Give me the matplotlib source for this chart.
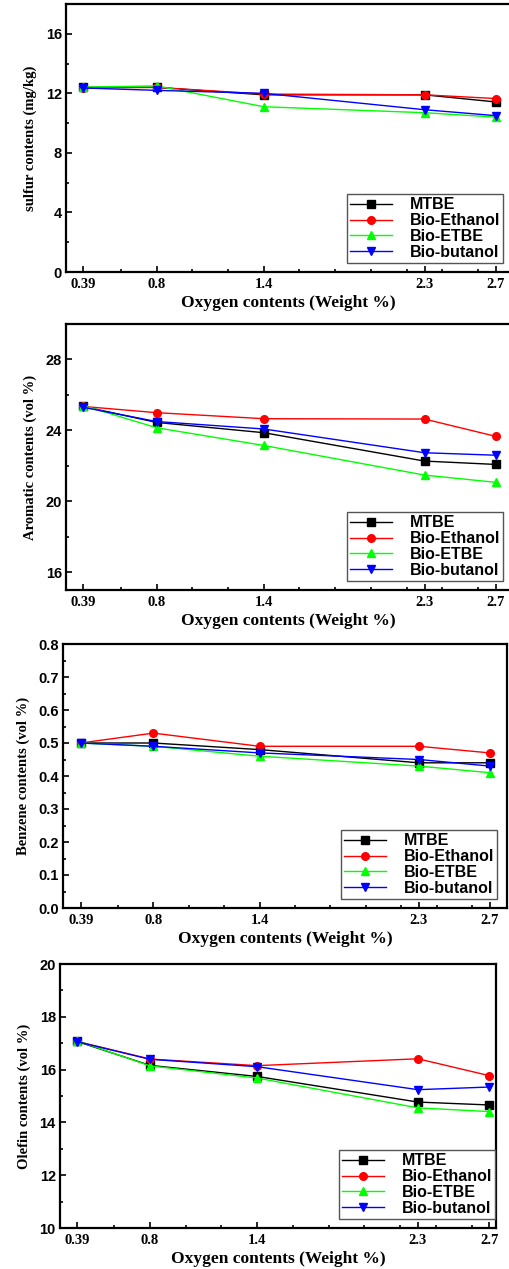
import matplotlib
matplotlib.use("Agg")
import matplotlib.pyplot as plt
from matplotlib.ticker import FixedLocator, MultipleLocator

# data
oxygen = [0.39, 0.8, 1.4, 2.3, 2.7]
oxygen_labels = ["0.39", "0.8", "1.4", "2.3", "2.7"]
series_names = ["MTBE", "Bio-Ethanol", "Bio-ETBE", "Bio-butanol"]

sulfur_mtbe = [12.4, 12.4, 11.9, 11.9, 11.42]
sulfur_ethanol = [12.38, 12.4, 11.95, 11.9, 11.65]
sulfur_etbe = [12.42, 12.5, 11.1, 10.7, 10.4]
sulfur_butanol = [12.36, 12.2, 12.0, 10.9, 10.5]

arom_mtbe = [25.35, 24.45, 23.87, 22.27, 22.08]
arom_ethanol = [25.35, 25.0, 24.66, 24.64, 23.66]
arom_etbe = [25.4, 24.15, 23.15, 21.48, 21.07]
arom_butanol = [25.3, 24.5, 24.08, 22.74, 22.6]

benz_mtbe = [0.5, 0.5, 0.48, 0.44, 0.44]
benz_ethanol = [0.5, 0.53, 0.49, 0.49, 0.47]
benz_etbe = [0.5, 0.49, 0.46, 0.43, 0.41]
benz_butanol = [0.5, 0.49, 0.47, 0.45, 0.43]

olef_mtbe = [17.07, 16.16, 15.74, 14.77, 14.66]
olef_ethanol = [17.07, 16.4, 16.15, 16.41, 15.77]
olef_etbe = [17.1, 16.14, 15.68, 14.55, 14.41]
olef_butanol = [17.06, 16.39, 16.11, 15.24, 15.34]

colors = ["black", "red", "#00ff00", "blue"]
markers = ["s", "o", "^", "v"]

W, H = 510, 1269
fig = plt.figure(figsize=(W / 100, H / 100), dpi=100)

serif = "Liberation Serif"
sans = "Liberation Sans"


def make_panel(box, xlim, ylim, ymajor, yminor, yfmt, ylabel, data, legend_br):
    # box is (left, top, right, bottom) in pixels
    left, top, right, bottom = box
    ax = fig.add_axes([left / W, 1 - bottom / H, (right - left) / W, (bottom - top) / H])
    for vals, c, m, name in zip(data, colors, markers, series_names):
        ax.plot(oxygen, vals, color=c, marker=m, markersize=5.5, linewidth=1.0, label=name)
    ax.set_xlim(xlim)
    ax.set_ylim(ylim)
    ax.xaxis.set_major_locator(FixedLocator(oxygen))
    ax.set_xticklabels(oxygen_labels, fontfamily=serif, fontweight="bold", fontsize=10.5)
    ax.xaxis.set_minor_locator(FixedLocator([0.6, 1.0, 1.2, 1.6, 1.8, 2.0, 2.2, 2.4, 2.6]))
    ax.yaxis.set_major_locator(MultipleLocator(ymajor))
    ax.yaxis.set_minor_locator(MultipleLocator(yminor))
    ax.yaxis.set_major_formatter(yfmt)
    for lab in ax.get_yticklabels():
        lab.set_fontfamily(sans)
        lab.set_fontweight("bold")
        lab.set_fontsize(10.5)
    ax.tick_params(which="both", direction="in", top=False, right=False)
    ax.tick_params(which="major", length=4, width=1.2)
    ax.tick_params(which="minor", length=2.5, width=1.2)
    ax.tick_params(axis="x", pad=4)
    ax.tick_params(axis="y", pad=3)
    for sp in ax.spines.values():
        sp.set_linewidth(1.6)
    ax.set_xlabel("Oxygen contents (Weight %)", fontfamily=serif, fontweight="bold",
                  fontsize=12.5, labelpad=3)
    ax.set_ylabel(ylabel, fontfamily=serif, fontweight="bold", fontsize=10.5, labelpad=6)
    leg = ax.legend(loc="lower right",
                    bbox_to_anchor=(legend_br[0] / W, 1 - legend_br[1] / H),
                    bbox_transform=fig.transFigure, borderaxespad=0, fancybox=False,
                    prop={"family": sans, "weight": "bold", "size": 11.5},
                    handlelength=2.6, handletextpad=1.1, labelspacing=0.05,
                    borderpad=0.2, framealpha=1)
    leg.get_frame().set_edgecolor("#555555")
    leg.get_frame().set_linewidth(1.0)
    return ax


make_panel((66, 4, 511, 272), (0.293, 2.784), (0, 18), 4, 2, "{x:.0f}",
           "sulfur contents (mg/kg)",
           [sulfur_mtbe, sulfur_ethanol, sulfur_etbe, sulfur_butanol], (503, 263))
make_panel((66, 324, 511, 590), (0.293, 2.784), (15, 30), 4, 2, "{x:.0f}",
           "Aromatic contents (vol %)",
           [arom_mtbe, arom_ethanol, arom_etbe, arom_butanol], (503, 581))
make_panel((63, 644, 507, 908), (0.29, 2.797), (0, 0.8), 0.1, 0.05, "{x:.1f}",
           "Benzene contents (vol %)",
           [benz_mtbe, benz_ethanol, benz_etbe, benz_butanol], (497, 899))
make_panel((60, 964, 496, 1228), (0.296, 2.737), (10, 20), 2, 1, "{x:.0f}",
           "Olefin contents (vol %)",
           [olef_mtbe, olef_ethanol, olef_etbe, olef_butanol], (495, 1219))

fig.savefig("out.png", dpi=100)
